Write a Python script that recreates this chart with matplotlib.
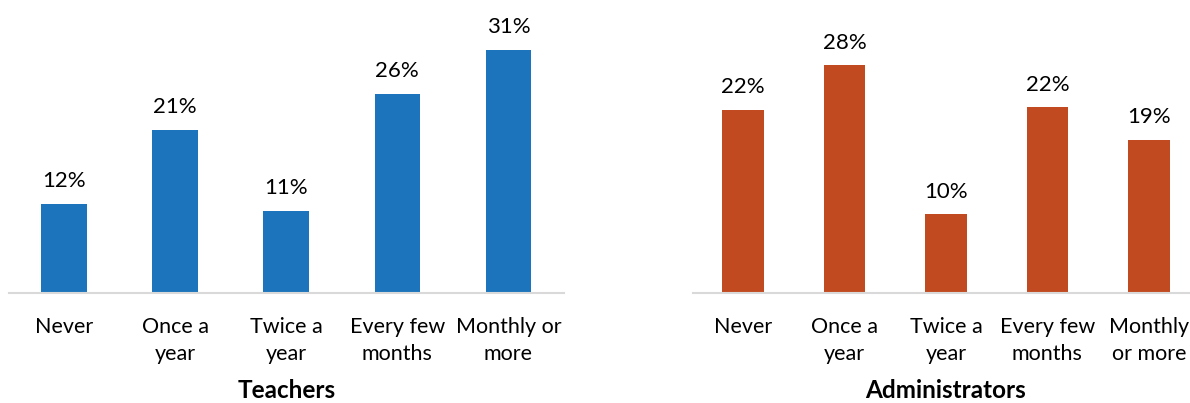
import matplotlib.pyplot as plt

plt.rcParams['font.family'] = ['Lato', 'DejaVu Sans']

categories = ["Never", "Once a\nyear", "Twice a\nyear", "Every few\nmonths", "Monthly or\nmore"]
categories_admin = ["Never", "Once a\nyear", "Twice a\nyear", "Every few\nmonths", "Monthly\nor more"]
teachers = [11.4, 20.8, 10.5, 25.4, 31.0]
teacher_labels = ["12%", "21%", "11%", "26%", "31%"]
admins = [22.5, 28.0, 9.7, 22.8, 18.8]
admin_labels = ["22%", "28%", "10%", "22%", "19%"]

W, H = 1190, 403
fig = plt.figure(figsize=(W / 100, H / 100), dpi=100)

def panel(rect, vals, labels, cats, color, title, ymax):
    ax = fig.add_axes(rect)
    x = range(len(vals))
    ax.bar(x, vals, width=0.41, color=color)
    for i, (v, lab) in enumerate(zip(vals, labels)):
        ax.annotate(lab, (i, v), xytext=(0, 9), textcoords='offset points',
                    ha='center', va='bottom', fontsize=16)
    ax.set_xlim(-0.5, len(vals) - 0.5)
    ax.set_ylim(0, ymax)
    ax.set_yticks([])
    ax.set_xticks(list(x))
    ax.set_xticklabels(cats, fontsize=15.5)
    for t in ax.get_xticklabels():
        t.set_linespacing(1.45)
    ax.tick_params(axis='x', length=0, pad=17)
    for s in ['top', 'left', 'right']:
        ax.spines[s].set_visible(False)
    ax.spines['bottom'].set_color('#D9D9D9')
    ax.spines['bottom'].set_linewidth(1.5)
    cx = rect[0] + rect[2] / 2
    fig.text(cx, 1 - 390 / H, title, ha='center', va='center',
             fontsize=17.5, fontweight='bold')
    return ax

bottom = 1 - 293 / H
top_px = 20
height = (293 - top_px) / H

panel([8.5 / W, bottom, (564 - 8.5) / W, height], teachers, teacher_labels,
      categories, '#1C75BC', 'Teachers', (293 - top_px) / 7.84)
panel([692.5 / W, bottom, (1199.5 - 692.5) / W, height], admins, admin_labels,
      categories_admin, '#C24A21', 'Administrators', (293 - top_px) / 8.14)

fig.savefig('out.png', dpi=100)
